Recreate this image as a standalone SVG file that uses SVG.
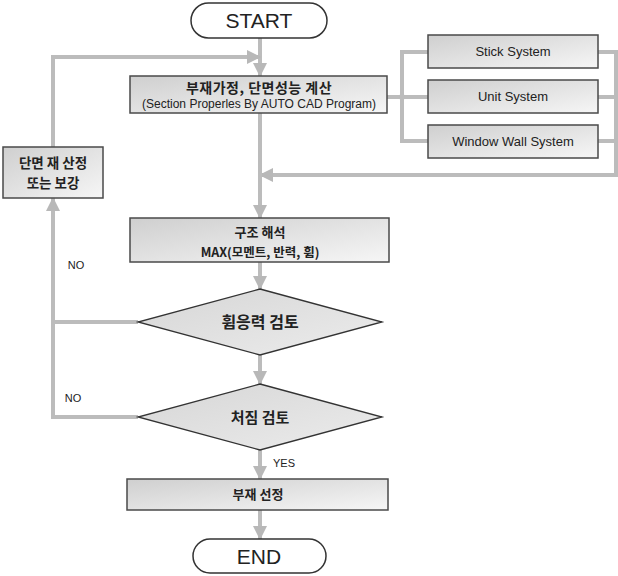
<svg xmlns="http://www.w3.org/2000/svg" width="618" height="576" viewBox="0 0 618 576">
<defs>
<linearGradient id="boxg" x1="0" y1="0" x2="1" y2="1">
<stop offset="0" stop-color="#cfcfcf"/>
<stop offset="1" stop-color="#f6f6f6"/>
</linearGradient>
<linearGradient id="dg" x1="0" y1="0" x2="1" y2="1">
<stop offset="0" stop-color="#d6d6d6"/>
<stop offset="1" stop-color="#ececec"/>
</linearGradient>
<marker id="ah" markerUnits="userSpaceOnUse" markerWidth="14" markerHeight="14" viewBox="0 0 14 14" refX="13" refY="7" orient="auto">
<path d="M0,0 L14,7 L0,14 Z" fill="#b8b8b8"/>
</marker>
<style>
.ln{fill:none;stroke:#bcbcbc;stroke-width:4}
.box{fill:url(#boxg);stroke:#4a4a4a;stroke-width:1.5}
.dia{fill:url(#dg);stroke:#333;stroke-width:1.3}
.pill{fill:#fff;stroke:#333;stroke-width:1.5}
.t{font-family:"Liberation Sans","Noto Sans CJK KR",sans-serif;fill:#222;text-anchor:middle}
.kb{font-family:"Noto Sans CJK KR","Liberation Sans",sans-serif;font-weight:bold;fill:#222;text-anchor:middle}
</style>
</defs>
<g id="connectors">
<path class="ln" d="M260,38 V76" marker-end="url(#ah)"/>
<path class="ln" d="M53,147 V57 H260" marker-end="url(#ah)"/>
<path class="ln" d="M387,97 H402"/>
<path class="ln" d="M428,52 H402 V141 H428"/>
<path class="ln" d="M402,97 H428"/>
<circle cx="402" cy="97" r="3" fill="#bcbcbc"/>
<path class="ln" d="M598,52 H616 V141 H598"/>
<path class="ln" d="M598,97 H616"/>
<path class="ln" d="M616,141 V175 H260" marker-end="url(#ah)"/>
<path class="ln" d="M260,113 V218" marker-end="url(#ah)"/>
<path class="ln" d="M260,262 V289" marker-end="url(#ah)"/>
<path class="ln" d="M138,322 H53"/>
<path class="ln" d="M260,355 V384" marker-end="url(#ah)"/>
<path class="ln" d="M138,417 H53 V198" marker-end="url(#ah)"/>
<path class="ln" d="M260,450 V479" marker-end="url(#ah)"/>
<path class="ln" d="M260,510 V539" marker-end="url(#ah)"/>
<text class="t" x="76" y="269" font-size="11">NO</text>
<text class="t" x="73" y="402" font-size="11">NO</text>
<text class="t" x="284" y="467" font-size="11">YES</text>
</g>
<g id="start">
<rect class="pill" x="191" y="3" width="136" height="35" rx="17.5"/>
<text class="t" x="259" y="28" font-size="21">START</text>
</g>
<g id="assume">
<rect class="box" x="130" y="76" width="257" height="37"/>
<text class="kb" x="259" y="93" font-size="14" letter-spacing="0.5">부재가정, 단면성능 계산</text>
<text class="t" x="259" y="108" font-size="12" textLength="234" lengthAdjust="spacingAndGlyphs">(Section Properles By AUTO CAD Program)</text>
</g>
<g id="stick">
<rect class="box" x="428" y="35" width="170" height="33"/>
<text class="t" x="513" y="56" font-size="13">Stick System</text>
</g>
<g id="unit">
<rect class="box" x="428" y="80" width="170" height="33"/>
<text class="t" x="513" y="101" font-size="13">Unit System</text>
</g>
<g id="window">
<rect class="box" x="428" y="125" width="170" height="33"/>
<text class="t" x="513" y="146" font-size="13">Window Wall System</text>
</g>
<g id="reselect">
<rect class="box" x="3" y="147" width="100" height="51"/>
<text class="kb" x="53" y="168" font-size="13.5">단면 재 산정</text>
<text class="kb" x="53" y="188" font-size="13.5">또는 보강</text>
</g>
<g id="analysis">
<rect class="box" x="130" y="218" width="259" height="44"/>
<text class="kb" x="260" y="237" font-size="13">구조 해석</text>
<text class="kb" x="260" y="257" font-size="12.5">MAX(모멘트, 반력, 휨)</text>
</g>
<g id="bending">
<polygon class="dia" points="260,289 382,322 260,355 138,322"/>
<text class="kb" x="260" y="328" font-size="16">휨응력 검토</text>
</g>
<g id="deflection">
<polygon class="dia" points="260,384 382,417 260,450 138,417"/>
<text class="kb" x="260" y="423" font-size="15">처짐 검토</text>
</g>
<g id="select">
<rect class="box" x="127" y="479" width="261" height="31"/>
<text class="kb" x="258" y="499" font-size="13">부재 선정</text>
</g>
<g id="end">
<rect class="pill" x="193" y="539" width="133" height="34" rx="17"/>
<text class="t" x="259" y="564" font-size="21">END</text>
</g>
</svg>
